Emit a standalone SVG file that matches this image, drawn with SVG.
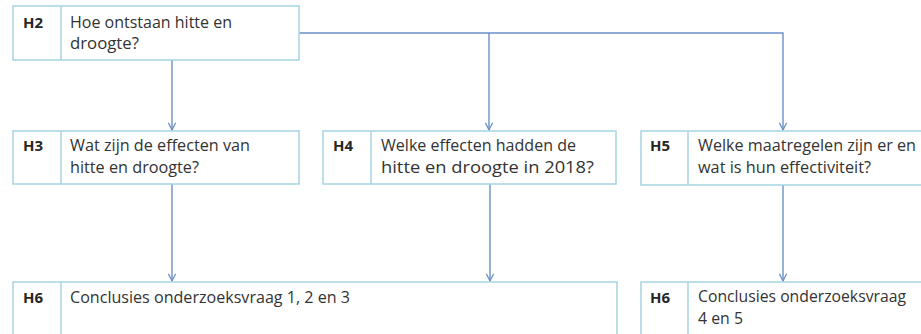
<svg xmlns="http://www.w3.org/2000/svg" width="921" height="334" viewBox="0 0 921 334">
<style>
.box{fill:#ffffff;stroke:#a4d3e3;stroke-width:1.5}
.lab{font-family:"Open Sans","Liberation Sans",sans-serif;font-size:15px;font-weight:bold;fill:#262626}
.txt{font-family:"Open Sans","Liberation Sans",sans-serif;font-size:15.5px;fill:#333333}
.con{fill:none;stroke:#6a90c8;stroke-width:1.4}
</style>
<defs>
<marker id="arr" viewBox="0 0 10 10" refX="9" refY="5" markerWidth="9" markerHeight="9" markerUnits="userSpaceOnUse" orient="auto">
<path d="M1,1 L9,5 L1,9" fill="none" stroke="#6a90c8" stroke-width="1.4"/>
</marker>
</defs>
<rect width="921" height="334" fill="#ffffff"/>
<g id="connectors">
<line class="con" x1="172" y1="60" x2="172" y2="130" marker-end="url(#arr)"/>
<polyline class="con" points="299,33 783,33 783,130" marker-end="url(#arr)"/>
<line class="con" x1="489" y1="33" x2="489" y2="130" marker-end="url(#arr)"/>
<line class="con" x1="172" y1="184" x2="172" y2="281" marker-end="url(#arr)"/>
<line class="con" x1="490" y1="184" x2="490" y2="281" marker-end="url(#arr)"/>
<line class="con" x1="783" y1="185" x2="783" y2="281" marker-end="url(#arr)"/>
</g>
<g id="H2">
<rect class="box" x="13" y="6" width="286" height="54"/>
<line class="box" x1="61" y1="6" x2="61" y2="60"/>
<text class="lab" x="23" y="28">H2</text>
<text class="txt" x="70" y="28" textLength="162" lengthAdjust="spacingAndGlyphs">Hoe ontstaan hitte en</text>
<text class="txt" x="70" y="49" textLength="69" lengthAdjust="spacingAndGlyphs">droogte?</text>
</g>
<g id="H3">
<rect class="box" x="13" y="131" width="286" height="53"/>
<line class="box" x1="61" y1="131" x2="61" y2="184"/>
<text class="lab" x="23" y="151">H3</text>
<text class="txt" x="70" y="151" textLength="180" lengthAdjust="spacingAndGlyphs">Wat zijn de effecten van</text>
<text class="txt" x="70" y="173" textLength="129" lengthAdjust="spacingAndGlyphs">hitte en droogte?</text>
</g>
<g id="H4">
<rect class="box" x="323" y="131" width="293" height="53"/>
<line class="box" x1="371" y1="131" x2="371" y2="184"/>
<text class="lab" x="333" y="151">H4</text>
<text class="txt" x="381" y="151" textLength="195" lengthAdjust="spacingAndGlyphs">Welke effecten hadden de</text>
<text class="txt" x="381" y="173" textLength="213" lengthAdjust="spacingAndGlyphs">hitte en droogte in 2018?</text>
</g>
<g id="H5">
<rect class="box" x="641" y="131" width="300" height="54"/>
<line class="box" x1="688" y1="131" x2="688" y2="185"/>
<text class="lab" x="650" y="151">H5</text>
<text class="txt" x="698" y="151" textLength="218" lengthAdjust="spacingAndGlyphs">Welke maatregelen zijn er en</text>
<text class="txt" x="698" y="173" textLength="173" lengthAdjust="spacingAndGlyphs">wat is hun effectiviteit?</text>
</g>
<g id="H6a">
<rect class="box" x="13" y="282" width="604" height="70"/>
<line class="box" x1="61" y1="282" x2="61" y2="352"/>
<text class="lab" x="23" y="303">H6</text>
<text class="txt" x="70" y="303" textLength="280" lengthAdjust="spacingAndGlyphs">Conclusies  onderzoeksvraag 1, 2 en 3</text>
</g>
<g id="H6b">
<rect class="box" x="641" y="282" width="300" height="70"/>
<line class="box" x1="688" y1="282" x2="688" y2="352"/>
<text class="lab" x="650" y="303">H6</text>
<text class="txt" x="698" y="302" textLength="208" lengthAdjust="spacingAndGlyphs">Conclusies  onderzoeksvraag</text>
<text class="txt" x="698" y="323.5" textLength="45" lengthAdjust="spacingAndGlyphs">4 en 5</text>
</g>
</svg>
